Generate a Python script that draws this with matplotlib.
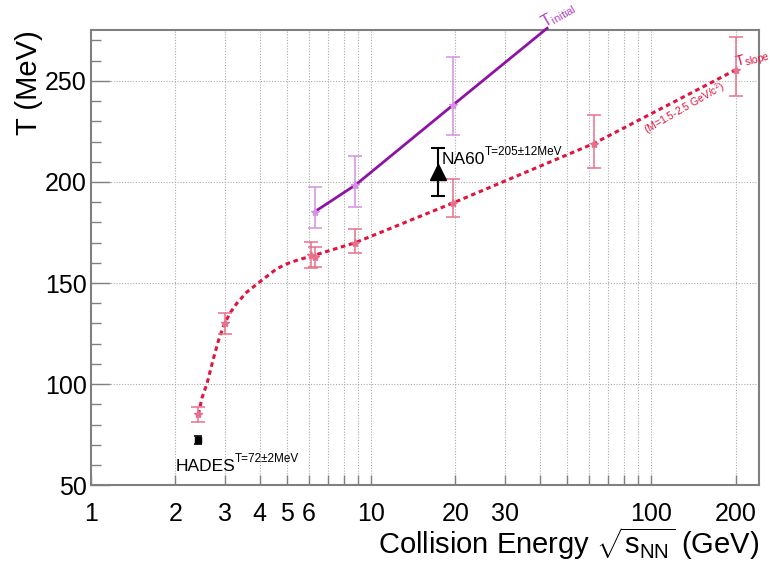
import matplotlib
matplotlib.use("Agg")
import matplotlib.pyplot as plt
from matplotlib.ticker import FixedLocator, FixedFormatter, MultipleLocator

plt.rcParams['font.family'] = ['Liberation Sans', 'DejaVu Sans']
plt.rcParams['mathtext.fontset'] = 'custom'
plt.rcParams['mathtext.rm'] = 'Liberation Sans'
plt.rcParams['mathtext.it'] = 'Liberation Sans:italic'
plt.rcParams['mathtext.sf'] = 'Liberation Sans'

# T_slope data (red)
slope_x = [2.42, 3.0, 6.1, 6.3, 8.8, 19.6, 62.4, 200]
slope_y = [85, 130, 164, 163, 170, 189.6, 219, 255.4]
slope_lo = [3.5, 5, 6.5, 5, 5.3, 7, 12, 13]
slope_hi = [3.5, 5, 6.5, 5, 6.7, 12, 14, 16.5]

# dashed curve drawn through the slope points
curve_x = [2.42, 2.49, 2.6, 2.73, 2.86, 3.0, 3.15, 3.32, 3.6, 4.0, 4.6, 5.0, 5.5, 6.2, 8.8, 19.6, 62.4, 200]
curve_y = [85, 93, 100.5, 112, 122, 130, 135.5, 140, 145.5, 150.5, 157, 159.5, 161.5, 163.5, 170, 189.6, 219, 255.4]

# T_initial data (purple)
init_x = [6.3, 8.8, 19.6]
init_y = [185.3, 198.5, 238]
init_lo = [8, 11, 15]
init_hi = [12, 14.4, 24]
init_line_x = [6.3, 8.8, 19.6, 42.5]
init_line_y = [185.3, 198.5, 238, 276]

# single measurements
hades_x, hades_y, hades_err = 2.42, 72.3, 2
na60_x, na60_y, na60_err = 17.3, 205, 12

xtick_vals = [1, 2, 3, 4, 5, 6, 7, 8, 9, 10, 20, 30, 40, 50, 60, 70, 80, 90, 100, 200]
xtick_labels = ['1', '2', '3', '4', '5', '6', '', '', '', '10', '20', '30', '', '', '', '', '', '', '100', '200']

red = '#e0143f'
red_light = '#e8708c'
purple = '#8e12a6'
purple_light = '#d690e2'

fig = plt.figure(figsize=(7.7, 5.61), dpi=100)
ax = fig.add_axes([0.118, 0.135, 0.868, 0.811])
ax.set_xscale('log')
ax.set_xlim(1, 243)
ax.set_ylim(50, 275)

# grid
for v in xtick_vals[1:]:
    ax.axvline(v, color='#aaaaaa', lw=0.8, ls=(0, (1, 1.5)), zorder=0)
for v in [100, 150, 200, 250]:
    ax.axhline(v, color='#aaaaaa', lw=0.8, ls=(0, (1, 1.5)), zorder=0)

# curves
ax.plot(curve_x, curve_y, color=red, lw=2.2, ls=(0, (1.5, 1.2)), zorder=3)
ax.errorbar(slope_x, slope_y, yerr=[slope_lo, slope_hi], fmt='*', color=red_light,
            ms=6, capsize=5, elinewidth=1.1, capthick=1.1, zorder=4)

ax.plot(init_line_x, init_line_y, color=purple, lw=2, zorder=3, clip_on=False)
ax.errorbar(init_x, init_y, yerr=[init_lo, init_hi], fmt='*', color=purple_light,
            ms=6, capsize=5, elinewidth=1.1, capthick=1.1, zorder=4)

ax.errorbar([hades_x], [hades_y], yerr=[hades_err], fmt='s', color='black', ms=5,
            capsize=3, elinewidth=1.2, capthick=1.2, zorder=5)
ax.errorbar([na60_x], [na60_y], yerr=[na60_err], fmt='^', color='black', ms=11,
            capsize=5, elinewidth=1.5, capthick=1.5, zorder=5)

# labels with superscripts
t1 = ax.text(2.0, 57, 'HADES', fontsize=12.5, ha='left', va='baseline')
ax.annotate('T=72±2MeV', xy=(1, 0.6), xycoords=t1, fontsize=8.5, ha='left', va='bottom')
t2 = ax.text(17.8, 209, 'NA60', fontsize=12.5, ha='left', va='baseline')
ax.annotate('T=205±12MeV', xy=(1, 0.6), xycoords=t2, fontsize=8.5, ha='left', va='bottom')

ax.text(41.5, 276, r'T$_{\mathrm{initial}}$', fontsize=11.5, color='#b040c4', rotation=30,
        rotation_mode='anchor', ha='left', va='baseline', clip_on=False)
ax.text(201, 257, r'T$_{\mathrm{slope}}$', fontsize=10.5, color=red, rotation=15,
        rotation_mode='anchor', ha='left', va='baseline', clip_on=False)
ax.text(97, 223.5, r'(M=1.5-2.5 GeV/c$^{2}$)', fontsize=7.5, color=red, rotation=30,
        rotation_mode='anchor', ha='left', va='baseline')

# axes styling
ax.xaxis.set_major_locator(FixedLocator(xtick_vals))
ax.xaxis.set_major_formatter(FixedFormatter(xtick_labels))
ax.xaxis.set_minor_locator(FixedLocator([]))
ax.yaxis.set_major_locator(MultipleLocator(50))
ax.yaxis.set_minor_locator(MultipleLocator(10))
ax.tick_params(axis='x', which='major', direction='in', length=7, width=1, color='#808080',
               labelsize=18, pad=12)
ax.tick_params(axis='y', which='major', direction='in', length=14, width=1, color='#808080',
               labelsize=18, pad=3)
ax.tick_params(axis='y', which='minor', direction='in', length=7, width=1, color='#808080')
for s in ax.spines.values():
    s.set_color('#808080')
    s.set_linewidth(1.5)

fig.text(0.038, 0.946, 'T (MeV)', fontsize=21, rotation=90, ha='center', va='top')
fig.text(0.986, 0.032, r'Collision Energy $\sqrt{\mathrm{s}_{\mathrm{NN}}}$ (GeV)', fontsize=21,
         ha='right', va='center')

fig.savefig('out.png', dpi=100)
